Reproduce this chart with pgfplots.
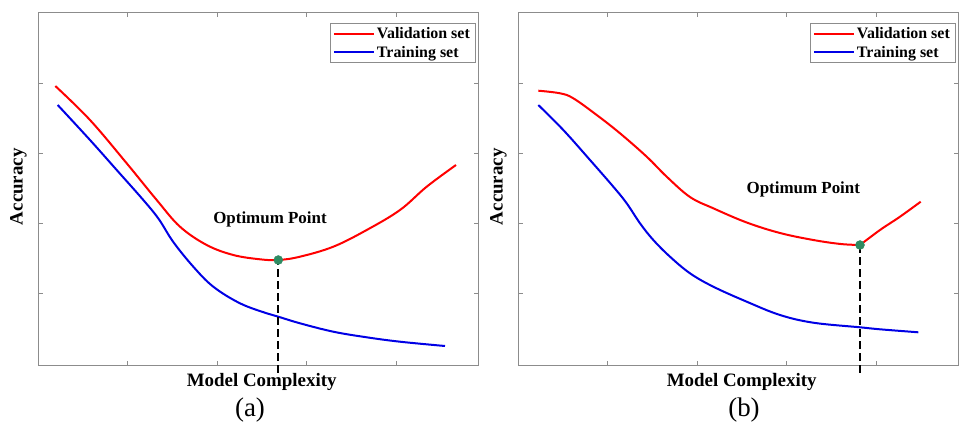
\documentclass[border=0pt]{standalone}
\usepackage{pgfplots}
\pgfplotsset{compat=1.18}
\usepackage{fontspec}
\setmainfont{Liberation Serif}
\definecolor{optgreen}{HTML}{2E8B62}
\definecolor{axgray}{HTML}{8C8C8C}

% data in pixel units of the reference: x from left axis edge, y from bottom axis edge
\pgfplotsset{
  panel/.style={
    x=1bp, y=1bp,
    xmin=0, xmax=439.5, ymin=0, ymax=352.3,
    xtick={89,178.6,268,358}, ytick={71.7,141.7,211.7,281.7},
    xticklabels={}, yticklabels={},
    tick align=inside, major tick length=4bp,
    axis line style={axgray, line width=0.8bp},
    every tick/.style={axgray, line width=0.6bp},
    clip=false,
    legend style={draw=axgray, line width=0.6bp,
      font=\fontsize{16}{18}\selectfont\bfseries,
      at={(0.993,0.970)}, anchor=north east,
      inner xsep=3bp, inner ysep=2bp, row sep=2bp},
    legend cell align=left,
    legend image code/.code={\draw[##1] (0bp,0bp) -- (40bp,0bp);},
  },
  val/.style={red, line width=2bp, smooth, tension=0.6},
  trn/.style={blue!90!black, line width=2bp, smooth, tension=0.6},
  opt/.style={black, line width=2bp, dash pattern=on 8bp off 4bp},
}
\tikzset{lbl/.style={font=\fontsize{19}{21}\selectfont\bfseries}}

\begin{document}
\begin{tikzpicture}
\useasboundingbox (0,0) rectangle (961bp,430bp);

% (a)
\begin{axis}[panel, at={(38.7bp,65bp)}, anchor=origin]
\addplot[val] coordinates {
(16.6,279) (51.3,245) (88,201.7) (118,165) (141.3,138.3) (168,120)
(194.6,110) (221.3,105.7) (239.6,105) (261.3,108.3) (294.6,118.3)
(328,135) (361.3,155) (388,178.3) (417.3,200)
};
\addlegendentry{Validation set}
\addplot[trn] coordinates {
(19,260) (51.3,225) (78,195) (104.6,165) (120,146) (134.6,123)
(154.6,98.3) (174.6,78.3) (201.3,61.7) (228,51.7) (239.6,48.3)
(261.3,41.7) (294.6,33.3) (328,27.7) (361.3,23.3) (406.3,19)
};
\addlegendentry{Training set}
\addplot[opt, forget plot] coordinates {(239.6,-8) (239.6,105)};
\addplot[only marks, mark=*, mark size=4.5bp, color=optgreen, forget plot]
  coordinates {(239.6,105)};
\node[font=\fontsize{17}{19}\selectfont\bfseries] at (axis cs:231.3,146) {Optimum Point};
\node[lbl] at (axis cs:223,-16.7) {Model Complexity};
\node[lbl, rotate=90] at (axis cs:-20.4,178.3) {Accuracy};
\node[font=\fontsize{27}{29}\selectfont] at (axis cs:211.3,-45) {(a)};
\end{axis}

% (b)
\begin{axis}[panel, at={(518.7bp,65bp)}, anchor=origin]
\addplot[val] coordinates {
(19.6,274.3) (41.3,271.7) (54.6,266.7) (78,250) (101.3,231.7) (128,208.3)
(148,188.3) (171.3,168) (194.6,156.7) (228,142.5) (261.3,132)
(294.6,125) (322,121) (341.3,120)
};
\addlegendentry{Validation set}
\addplot[trn] coordinates {
(19.6,260) (44.6,235) (71.3,205) (94.6,178.3) (108,161.7) (121.3,141.7)
(134.6,125) (151.3,108.3) (171.3,91.7) (194.6,78.3) (228,63.3) (261.3,50)
(294.6,42.3) (341.3,37.7) (361.3,35.7) (399.6,32.7)
};
\addlegendentry{Training set}
\addplot[val, forget plot] coordinates {
(341.3,120) (361.3,135) (381.3,148.3) (402,163.3)
};
\addplot[opt, forget plot] coordinates {(341.3,-8) (341.3,120)};
\addplot[only marks, mark=*, mark size=4.5bp, color=optgreen, forget plot]
  coordinates {(341.3,120)};
\node[font=\fontsize{17}{19}\selectfont\bfseries] at (axis cs:284.6,176) {Optimum Point};
\node[lbl] at (axis cs:223,-16.7) {Model Complexity};
\node[lbl, rotate=90] at (axis cs:-20.4,178.3) {Accuracy};
\node[font=\fontsize{27}{29}\selectfont] at (axis cs:225.3,-45) {(b)};
\end{axis}
\end{tikzpicture}
\end{document}
